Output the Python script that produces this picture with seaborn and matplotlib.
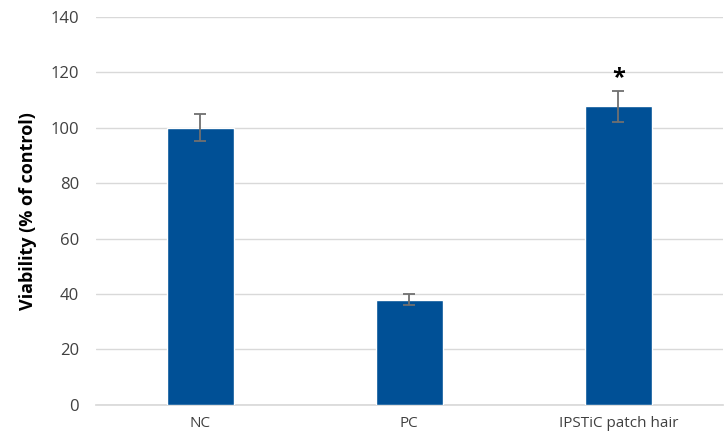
import matplotlib
matplotlib.use('Agg')
import matplotlib.pyplot as plt
import seaborn as sns
import pandas as pd

# Dados
grupos = ['NC', 'PC', 'IPSTiC patch hair']
viabilidade = [100, 38, 107.7]
erros = [5, 2, 5.5]
significativo = ['', '', '*']

sns.set_theme(style="white")
plt.rcParams['font.family'] = ['Open Sans', 'DejaVu Sans']

df = pd.DataFrame({'Grupo': grupos, 'Viabilidade': viabilidade})

fig, ax = plt.subplots(figsize=(7.25, 4.41), dpi=100)
sns.barplot(data=df, x='Grupo', y='Viabilidade', color='#005096', saturation=1,
            width=0.32, ax=ax, zorder=3)
ax.errorbar(range(len(grupos)), viabilidade, yerr=erros, fmt='none',
            ecolor='#707070', elinewidth=1.3, capsize=4.5, capthick=1.3, zorder=4)
for i, (v, e, s) in enumerate(zip(viabilidade, erros, significativo)):
    if s:
        ax.text(i, v + e + 0.5, s, ha='center', va='bottom', fontsize=17,
                fontweight='bold', color='black')

ax.set_ylim(0, 140)
ax.set_yticks(range(0, 141, 20))
ax.set_xlim(-0.5, 2.5)
ax.yaxis.grid(True, color='#d9d9d9', lw=1, zorder=0)
ax.set_axisbelow(True)
for lado in ['top', 'right', 'left']:
    ax.spines[lado].set_visible(False)
ax.spines['bottom'].set_color('#d9d9d9')
ax.tick_params(axis='y', length=0, labelsize=12, colors='#404040', pad=12)
ax.tick_params(axis='x', length=0, labelsize=11, colors='#404040', pad=8)
ax.set_xlabel('')
ax.set_ylabel('Viability (% of control)', fontsize=13, fontweight='bold', color='black', labelpad=10)

plt.subplots_adjust(left=0.132, right=0.997, top=0.962, bottom=0.082)
plt.savefig('out.png', dpi=100)
plt.close()
